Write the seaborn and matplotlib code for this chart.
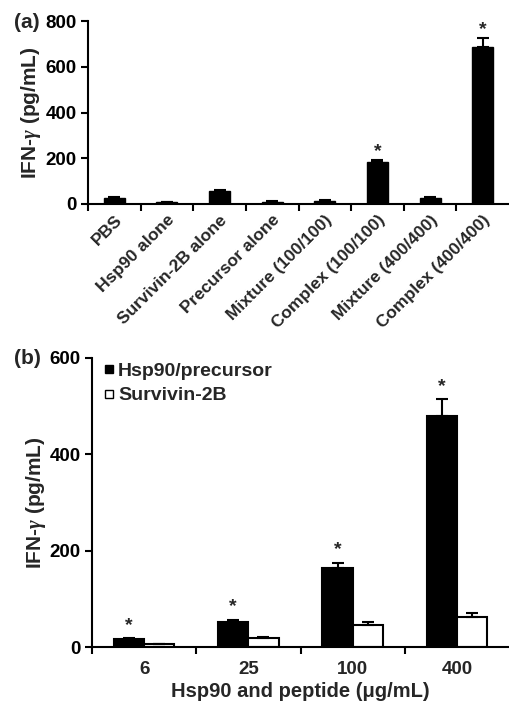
import matplotlib
matplotlib.use("Agg")
import matplotlib.pyplot as plt
import seaborn as sns
import pandas as pd
import numpy as np
from matplotlib.lines import Line2D
from matplotlib.container import BarContainer

# ---- data ----
cats_a = ["PBS", "Hsp90 alone", "Survivin-2B alone", "Precursor alone",
          "Mixture (100/100)", "Complex (100/100)", "Mixture (400/400)", "Complex (400/400)"]
vals_a = [27, 8, 58, 10, 13, 184, 27, 686]
errs_a = [4, 2, 3, 2, 3, 10, 4, 38]
sig_a = [False, False, False, False, False, True, False, True]

doses_b = ["6", "25", "100", "400"]
hsp_b = [16, 52, 164, 479]
hsp_err_b = [2, 5, 11, 36]
surv_b = [6, 19, 45, 62]
surv_err_b = [1, 2, 7, 8]
series_b = ["Hsp90/precursor", "Survivin-2B"]

sns.set_theme(style="ticks")
plt.rcParams['font.family'] = ['Liberation Sans', 'DejaVu Sans']
plt.rcParams['font.weight'] = 'bold'
plt.rcParams['axes.labelweight'] = 'bold'
plt.rcParams['mathtext.fontset'] = 'custom'
plt.rcParams['mathtext.it'] = 'Liberation Serif:italic:bold'
plt.rcParams['mathtext.rm'] = 'Liberation Sans:bold'

fig = plt.figure(figsize=(5.09, 7.04), dpi=100)
W, H = 509, 704
ax_a = fig.add_axes([88 / W, 1 - 204 / H, (509 - 88) / W, 183 / H])
ax_b = fig.add_axes([92 / W, 1 - 647 / H, (509 - 92) / W, 289 / H])

lw = 1.5
TICK = 13.5

# ---- panel a ----
dfa = pd.DataFrame({"cat": cats_a, "val": vals_a})
sns.barplot(data=dfa, x="cat", y="val", color="black", edgecolor="black",
            width=0.4, errorbar=None, ax=ax_a, saturation=1)
xa = [p.get_x() + p.get_width() / 2 for p in ax_a.patches]
ax_a.errorbar(xa, vals_a, yerr=[np.zeros(len(vals_a)), errs_a], fmt='none',
              ecolor='black', elinewidth=lw, capsize=4, capthick=lw)
for x, v, e, s in zip(xa, vals_a, errs_a, sig_a):
    if s:
        ax_a.annotate('*', xy=(x, v + e), xytext=(0, 0), textcoords='offset points',
                      ha='center', va='bottom', fontsize=14, fontweight='bold')
ax_a.set_ylim(0, 800)
ax_a.set_yticks([0, 200, 400, 600, 800])
n = len(cats_a)
ax_a.set_xlim(-0.5, n - 0.5)
ax_a.set_xticks(np.arange(-0.5, n - 0.5, 1.0))
ax_a.set_xticklabels([])
ax_a.set_xticks(np.arange(n), minor=True)
ax_a.set_xticklabels(cats_a, minor=True, rotation=45, ha='right',
                     rotation_mode='anchor', fontsize=12.5, fontweight='bold')
ax_a.tick_params(axis='x', which='minor', length=0, pad=6)
ax_a.set_xlabel("")
ax_a.set_ylabel(r"IFN-$\gamma$ (pg/mL)", fontsize=15, fontweight='bold', labelpad=2)

# ---- panel b ----
dfb = pd.DataFrame({
    "dose": doses_b * 2,
    "val": hsp_b + surv_b,
    "series": [series_b[0]] * 4 + [series_b[1]] * 4,
})
sns.barplot(data=dfb, x="dose", y="val", hue="series", order=doses_b,
            hue_order=series_b, palette={series_b[0]: "black", series_b[1]: "white"},
            edgecolor="black", linewidth=lw, width=0.58, errorbar=None,
            ax=ax_b, legend=False, saturation=1)
errs_b = [hsp_err_b, surv_err_b]
vals_b = [hsp_b, surv_b]
bar_conts = [c for c in ax_b.containers if isinstance(c, BarContainer)]
for i, cont in enumerate(bar_conts):
    xs = [p.get_x() + p.get_width() / 2 for p in cont]
    ax_b.errorbar(xs, vals_b[i], yerr=[np.zeros(4), errs_b[i]], fmt='none',
                  ecolor='black', elinewidth=lw, capsize=4, capthick=lw)
    if i == 0:
        for x, v, e in zip(xs, vals_b[i], errs_b[i]):
            ax_b.annotate('*', xy=(x, v + e), xytext=(0, 3), textcoords='offset points',
                          ha='center', va='bottom', fontsize=14, fontweight='bold')
ax_b.set_ylim(0, 600)
ax_b.set_yticks([0, 200, 400, 600])
m = len(doses_b)
ax_b.set_xlim(-0.5, m - 0.5)
ax_b.set_xticks(np.arange(-0.5, m - 0.5, 1.0))
ax_b.set_xticklabels([])
ax_b.set_xticks(np.arange(m), minor=True)
ax_b.set_xticklabels(doses_b, minor=True, fontsize=TICK, fontweight='bold')
ax_b.tick_params(axis='x', which='minor', length=0, pad=10)
ax_b.set_xlabel("Hsp90 and peptide (μg/mL)", fontsize=14.5, fontweight='bold', labelpad=3)
ax_b.set_ylabel(r"IFN-$\gamma$ (pg/mL)", fontsize=15, fontweight='bold', labelpad=1)

handles = [Line2D([], [], marker='s', linestyle='none', markersize=6,
                  markerfacecolor='black', markeredgecolor='black', markeredgewidth=1.0),
           Line2D([], [], marker='s', linestyle='none', markersize=6,
                  markerfacecolor='white', markeredgecolor='black', markeredgewidth=1.0)]
leg = ax_b.legend(handles, series_b, loc='upper left', bbox_to_anchor=(0.0, 1.025),
                  frameon=False, prop={'size': 14, 'weight': 'bold'},
                  handletextpad=0.15, handlelength=0.6, labelspacing=0.35, borderaxespad=0.2)

for ax in (ax_a, ax_b):
    sns.despine(ax=ax)
    for sp in ("left", "bottom"):
        ax.spines[sp].set_linewidth(lw)
        ax.spines[sp].set_color("black")
    ax.tick_params(axis='both', which='major', length=5, width=lw, color='black',
                   labelsize=TICK, labelcolor='black', pad=3)
    for lab in ax.get_yticklabels():
        lab.set_fontweight('bold')
    ax.set_facecolor('white')

fig.text(14 / W, 1 - 22 / H, "(a)", fontsize=15, fontweight='bold', va='center', ha='left')
fig.text(14 / W, 1 - 358 / H, "(b)", fontsize=15, fontweight='bold', va='center', ha='left')

fig.savefig("out.png", dpi=100, facecolor='white')
